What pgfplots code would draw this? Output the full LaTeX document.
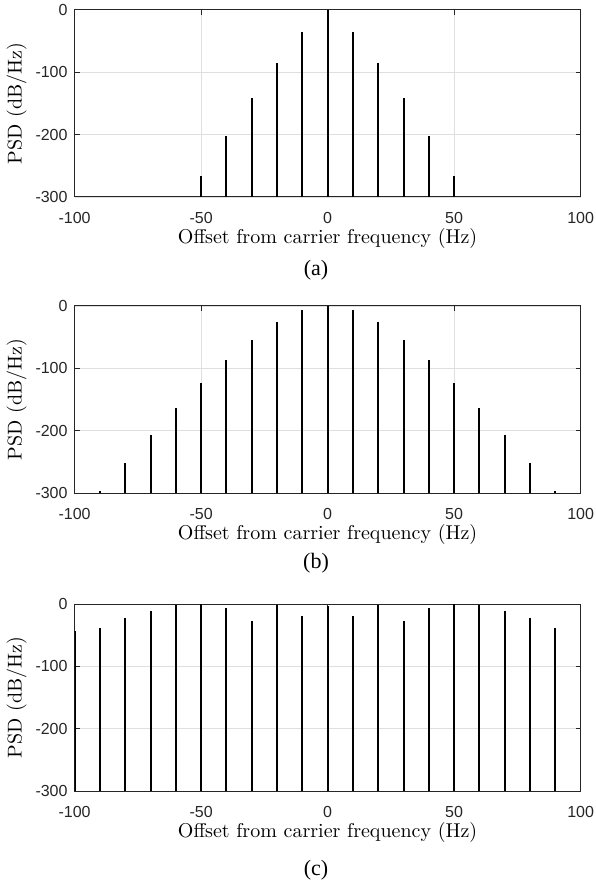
\documentclass[border=0pt]{standalone}
\usepackage{fontspec}
\usepackage{pgfplots}
\pgfplotsset{compat=1.18}
\usepackage{pgfplotstable}
\newfontfamily\tickfont{Liberation Sans}
\newfontfamily\capfont{Liberation Serif}
\definecolor{axgray}{RGB}{38,38,38}
\definecolor{gridgray}{RGB}{223,223,223}

\pgfplotstableread{
f p
-50 -267
-40 -202
-30 -141
-20 -85
-10 -36
0 0
10 -36
20 -85
30 -141
40 -202
50 -267
}\dataA

\pgfplotstableread{
f p
-90 -297
-80 -251
-70 -206
-60 -163
-50 -124
-40 -87
-30 -54
-20 -26
-10 -6
0 0
10 -6
20 -26
30 -54
40 -87
50 -124
60 -163
70 -206
80 -251
90 -297
}\dataB

\pgfplotstableread{
f p
-100 -43
-90 -39
-80 -22
-70 -11
-60 -2
-50 0
-40 -6
-30 -27
-20 -2
-10 -19
0 -3
10 -19
20 -2
30 -27
40 -6
50 0
60 -2
70 -11
80 -22
90 -39
}\dataC

\pgfplotsset{psd/.style={
  scale only axis, width=253pt, height=93.65pt,
  anchor=north west,
  xmin=-100, xmax=100, ymin=0, ymax=300,
  xtick={-100,-50,0,50,100}, xticklabels={-100,-50,0,50,100},
  ytick={0,100,200,300}, yticklabels={-300,-200,-100,0},
  grid=major, major grid style={gridgray, line width=0.4pt},
  axis line style={axgray, line width=0.5pt},
  tick style={axgray, line width=0.5pt},
  major tick length=2.5pt, tick align=inside,
  xtick pos=both, ytick pos=both,
  ticklabel style={font=\tickfont\fontsize{8}{9}\selectfont, text=axgray},
  xticklabel style={yshift=-4pt},
  xlabel={Offset from carrier frequency (Hz)},
  ylabel={PSD (dB/Hz)},
  label style={font=\fontsize{10}{12}\selectfont},
  xlabel style={at={(axis description cs:0.5,-0.219)}, anchor=center},
  ylabel style={at={(axis description cs:-0.1147,0.5)}, anchor=center},
  clip=true,
}}

\begin{document}
\begin{tikzpicture}
\path[use as bounding box] (0,0) rectangle (297.5pt,-443pt);

\begin{axis}[psd, at={(37.3pt,-4.85pt)}]
\addplot[ycomb, black, line width=1pt, mark=none] table[x=f, y expr=\thisrow{p}+300] {\dataA};
\end{axis}
\node[font=\capfont\fontsize{11}{13}\selectfont] at (158pt,-135pt) {(a)};

\begin{axis}[psd, at={(37.3pt,-153pt)}]
\addplot[ycomb, black, line width=1pt, mark=none] table[x=f, y expr=\thisrow{p}+300] {\dataB};
\end{axis}
\node[font=\capfont\fontsize{11}{13}\selectfont] at (158pt,-281.5pt) {(b)};

\begin{axis}[psd, at={(37.3pt,-302pt)}]
\addplot[ycomb, black, line width=1pt, mark=none] table[x=f, y expr=\thisrow{p}+300] {\dataC};
\end{axis}
\node[font=\capfont\fontsize{11}{13}\selectfont] at (158pt,-435pt) {(c)};
\end{tikzpicture}
\end{document}
